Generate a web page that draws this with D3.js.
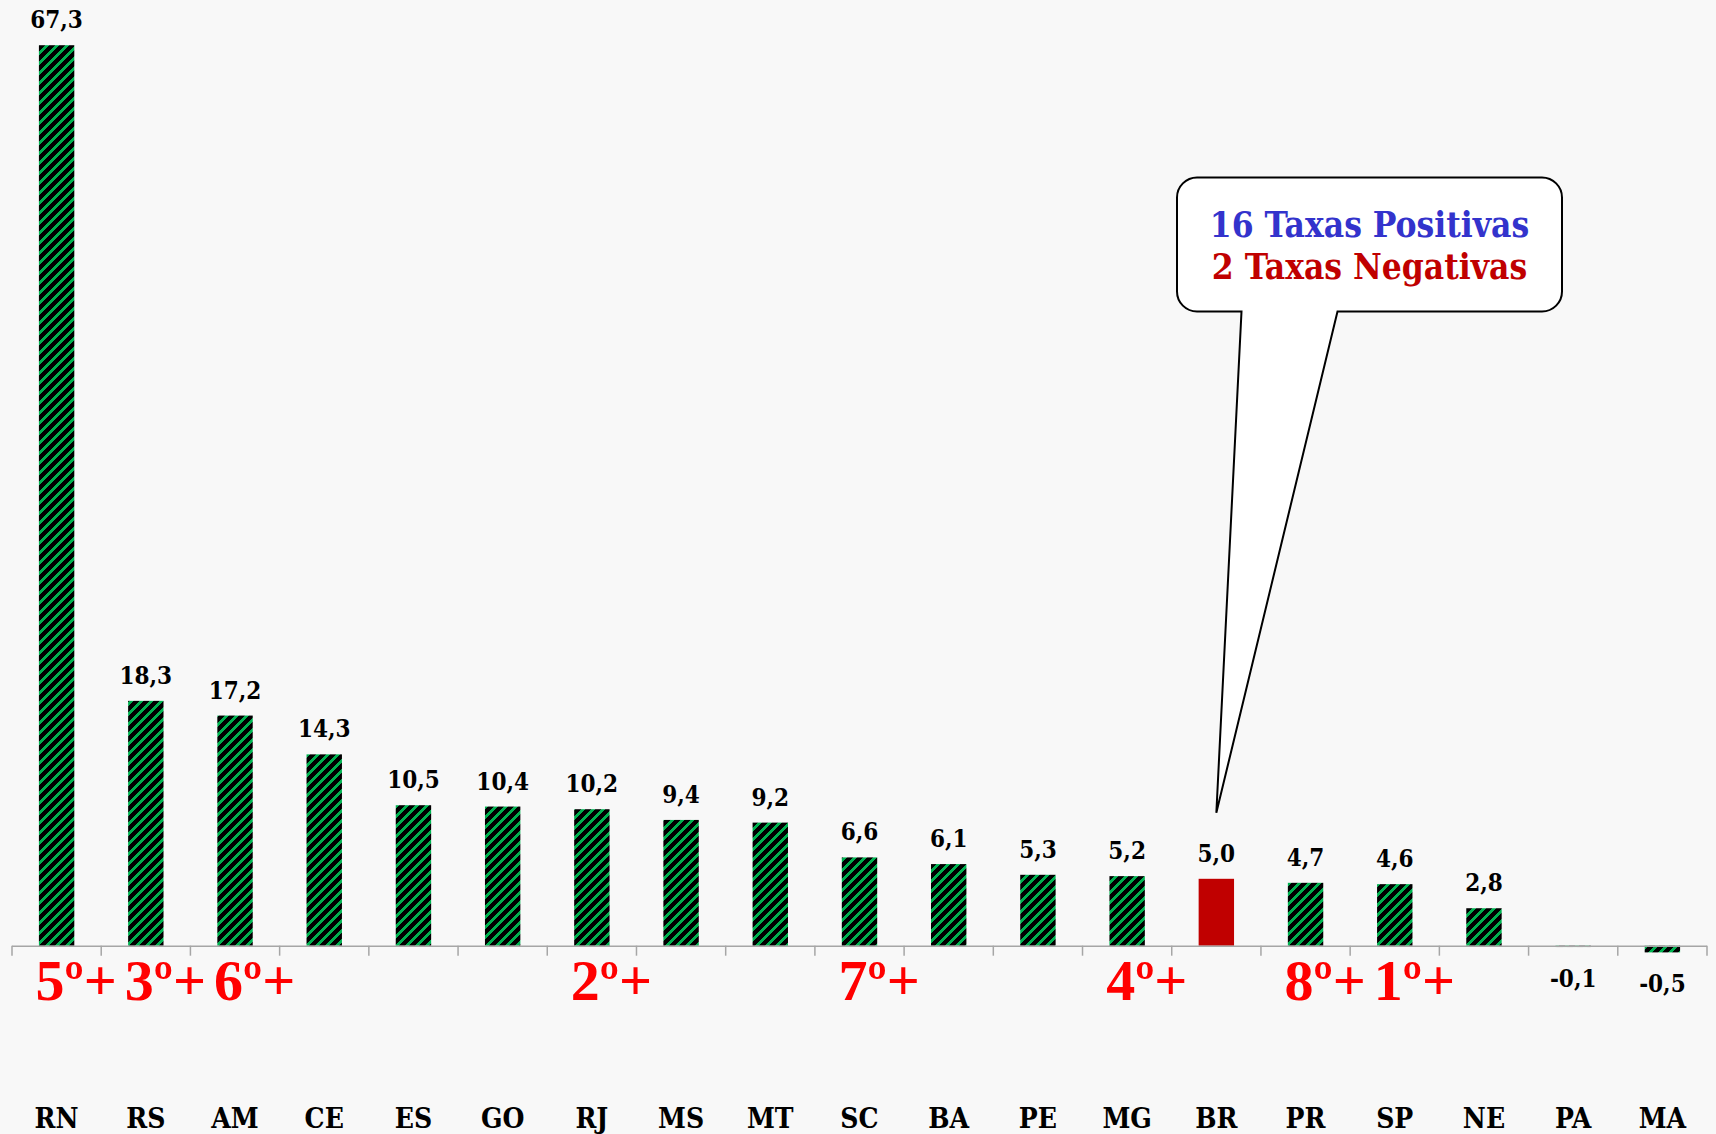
<!DOCTYPE html>
<html><head><meta charset="utf-8">
<script src="https://cdn.jsdelivr.net/npm/d3@7"></script>
<style>html,body{margin:0;padding:0;background:#f8f8f8;}</style>
</head><body>
<script>
const categories = ["RN","RS","AM","CE","ES","GO","RJ","MS","MT","SC","BA","PE","MG","BR","PR","SP","NE","PA","MA"];
const values = [67.3,18.3,17.2,14.3,10.5,10.4,10.2,9.4,9.2,6.6,6.1,5.3,5.2,5.0,4.7,4.6,2.8,-0.1,-0.5];
const highlight = ["BR"];
const rankCats = ["RN","RS","AM","RJ","SC","MG","PR","SP"];
const rankLabels = ["5º+","3º+","6º+","2º+","7º+","4º+","8º+","1º+"];
const calloutLines = ["16 Taxas Positivas","2 Taxas Negativas"];

const W = 1716, H = 1134;
const svg = d3.select("body").append("svg").attr("width", W).attr("height", H)
  .style("display","block").style("background","#f8f8f8");

const defs = svg.append("defs");
const pat = defs.append("pattern").attr("id","stripes").attr("patternUnits","userSpaceOnUse")
  .attr("width",10).attr("height",10);
pat.append("rect").attr("width",10).attr("height",10).attr("fill","#000");
pat.append("polygon").attr("points","0,0 4,0 0,4").attr("fill","#00b050").attr("shape-rendering","crispEdges");
pat.append("polygon").attr("points","0,10 10,0 10,4 4,10").attr("fill","#00b050").attr("shape-rendering","crispEdges");

const xb = d3.scaleBand().domain(categories).range([12, 1707]);
const y = d3.scaleLinear().domain([0, 70]).range([945.7, 945.7 - 70*13.38]);

const serif = "'DejaVu Serif Condensed','DejaVu Serif',serif";
const fmt = v => d3.format(".1f")(v).replace(".", ",").replace("\u2212", "-");
const cxOf = d => xb(d) + xb.bandwidth()/2;

// bars
svg.append("g").selectAll("rect").data(categories).join("rect")
  .attr("x", d => cxOf(d) - 17.7)
  .attr("width", 35.4)
  .attr("y", (d,i) => y(Math.max(0, values[i])))
  .attr("height", (d,i) => Math.abs(y(values[i]) - y(0)))
  .attr("fill", d => highlight.includes(d) ? "#c00000" : "url(#stripes)");

// axis
const axis = d3.axisBottom(xb).tickSize(0).tickFormat("");
const ag = svg.append("g").attr("transform", `translate(0,${y(0)})`).call(axis);
ag.select(".domain").attr("stroke","#a6a6a6").attr("stroke-width",1.5).attr("d", `M12,0.5H1707`);
ag.selectAll(".tick").remove();
ag.selectAll(".t").data(d3.range(categories.length+1)).join("line")
  .attr("x1", i => 12 + i*xb.step()).attr("x2", i => 12 + i*xb.step())
  .attr("y1", 0).attr("y2", 10).attr("stroke","#a6a6a6").attr("stroke-width",1.5);

// value labels
svg.append("g").selectAll("text").data(categories).join("text")
  .attr("x", d => cxOf(d))
  .attr("y", (d,i) => values[i] >= 0 ? y(values[i]) - 17 : y(values[i]) + 40)
  .attr("text-anchor","middle")
  .attr("font-family", serif).attr("font-weight","bold").attr("font-size", 24)
  .attr("fill","#000")
  .text((d,i) => fmt(values[i]));

// category labels
svg.append("g").selectAll("text").data(categories).join("text")
  .attr("x", d => cxOf(d))
  .attr("y", 1128)
  .attr("text-anchor","middle")
  .attr("font-family", serif).attr("font-weight","bold").attr("font-size", 28)
  .attr("fill","#000")
  .text(d => d);

// rank labels
svg.append("g").selectAll("text").data(rankCats).join("text")
  .attr("x", d => cxOf(d) - 21)
  .attr("y", 1000)
  .attr("font-family", "'Liberation Serif','Times New Roman',serif").attr("font-weight","bold")
  .attr("font-size", 58).attr("fill","#ff0000")
  .text((d,i) => rankLabels[i]);

// callout
const bx0 = 1177, by0 = 177.5, bx1 = 1562, by1 = 311.5, r = 20;
const tip = [cxOf("BR"), y(5.0) - 66];
const p = d3.path();
p.moveTo(bx0 + r, by0);
p.lineTo(bx1 - r, by0); p.arcTo(bx1, by0, bx1, by0 + r, r);
p.lineTo(bx1, by1 - r); p.arcTo(bx1, by1, bx1 - r, by1, r);
p.lineTo(1337.5, by1);
p.lineTo(tip[0], tip[1]);
p.lineTo(1241.5, by1);
p.lineTo(bx0 + r, by1); p.arcTo(bx0, by1, bx0, by1 - r, r);
p.lineTo(bx0, by0 + r); p.arcTo(bx0, by0, bx0 + r, by0, r);
p.closePath();
svg.append("path").attr("d", p.toString()).attr("fill","#fff").attr("stroke","#000").attr("stroke-width",2);

const ccx = (bx0 + bx1)/2;
svg.append("text").attr("x", ccx).attr("y", 236.5).attr("text-anchor","middle")
  .attr("font-family", serif).attr("font-weight","bold").attr("font-size", 35)
  .attr("fill","#3333cc").text(calloutLines[0]);
svg.append("text").attr("x", ccx).attr("y", 279).attr("text-anchor","middle")
  .attr("font-family", serif).attr("font-weight","bold").attr("font-size", 35)
  .attr("fill","#c00000").text(calloutLines[1]);
</script>
</body></html>
